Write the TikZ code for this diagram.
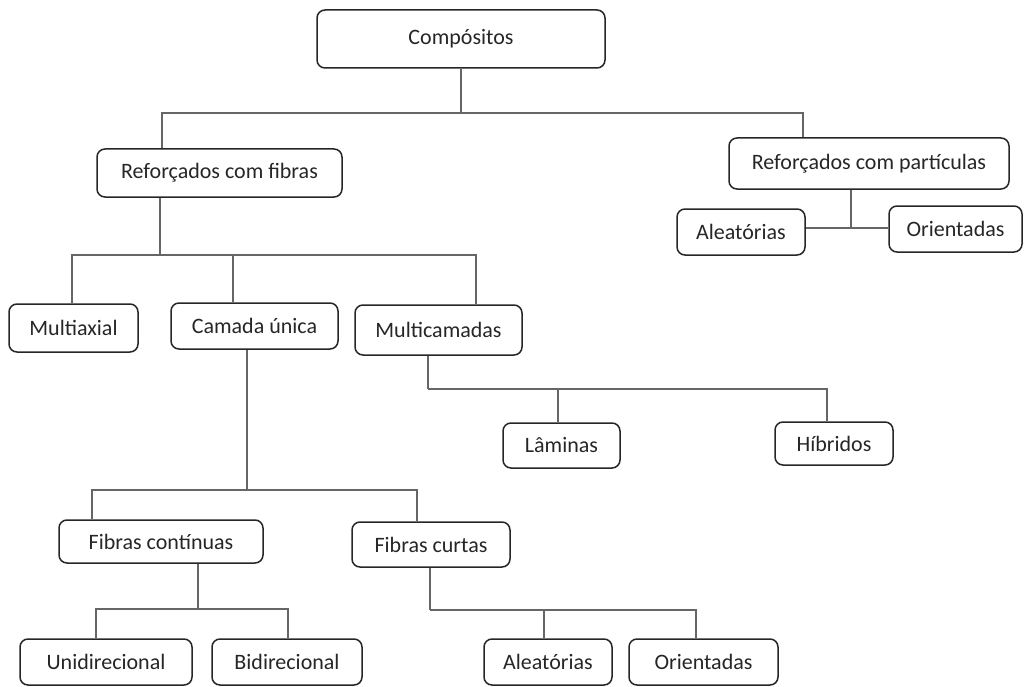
\documentclass[tikz,border=0pt]{standalone}
\usepackage{fontspec}
\setmainfont{Carlito}
\usetikzlibrary{calc}
\tikzset{
  caixa/.style={draw=black!85,line width=1.5pt,rounded corners=8pt,align=center,inner sep=0pt,text=black!85},
  liga/.style={draw=black!60,line width=1.3pt}
}

\begin{document}
\begin{tikzpicture}[x=1pt,y=-1pt,font=\fontsize{22}{26}\selectfont]
            \useasboundingbox (0,0) rectangle (1024,687);
            \node[caixa,minimum width=288,minimum height=58] (comp) at (461,39) {Compósitos};
            \node[caixa,minimum width=245,minimum height=48] (fibras) at (219.5,173) {Reforçados com fibras};
            \node[caixa,minimum width=280,minimum height=51] (part) at (869,163.5) {Reforçados com partículas};
            \node[caixa,minimum width=128,minimum height=46] (aleatP) at (741,232) {Aleatórias};
            \node[caixa,minimum width=133,minimum height=46] (orientP) at (955.5,229) {Orientadas};
            \node[caixa,minimum width=129,minimum height=48] (multiax) at (73.5,328) {Multiaxial};
            \node[caixa,minimum width=167,minimum height=46] (camada) at (254.5,326) {Camada única};
            \node[caixa,minimum width=167,minimum height=50] (multicam) at (438.5,330) {Multicamadas};
            \node[caixa,minimum width=117,minimum height=45] (laminas) at (561.5,445.5) {Lâminas};
            \node[caixa,minimum width=118,minimum height=43] (hibridos) at (834,443.5) {Híbridos};
            \node[caixa,minimum width=204,minimum height=43] (fcont) at (161,541.5) {Fibras contínuas};
            \node[caixa,minimum width=158,minimum height=45] (fcurt) at (431,544.5) {Fibras curtas};
            \node[caixa,minimum width=172,minimum height=46] (unid) at (106,662) {Unidirecional};
            \node[caixa,minimum width=150,minimum height=46] (bid) at (287,662) {Bidirecional};
            \node[caixa,minimum width=128,minimum height=46] (aleatB) at (548,662) {Aleatórias};
            \node[caixa,minimum width=149,minimum height=46] (orientB) at (703.5,662) {Orientadas};

            % ramos
            \coordinate (j1) at (461,113);
            \draw[liga] (comp.south) -- (j1);
            \draw[liga] ([xshift=-57.5pt]fibras.north) |- (j1);
            \draw[liga] ([xshift=-66pt]part.north) |- (j1);

            \coordinate (j7) at (851,228);
            \draw[liga] ([xshift=-18pt]part.south) -- (j7);
            \draw[liga] (aleatP.east |- j7) -- (orientP.west |- j7);

            \coordinate (j2) at (160,255);
            \draw[liga] ([xshift=-59.5pt]fibras.south) -- (j2);
            \draw[liga] ([xshift=-1.5pt]multiax.north) |- (j2);
            \draw[liga] ([xshift=-21.5pt]camada.north) |- (j2);
            \draw[liga] ([xshift=37.5pt]multicam.north) |- (j2);

            \coordinate (j3) at (428,389);
            \draw[liga] ([xshift=-10.5pt]multicam.south) -- (j3);
            \draw[liga] ([xshift=-3.5pt]laminas.north) |- (j3);
            \draw[liga] ([xshift=-7pt]hibridos.north) |- (j3);

            \coordinate (j4) at (247,490);
            \draw[liga] ([xshift=-7.5pt]camada.south) -- (j4);
            \draw[liga] ([xshift=-69pt]fcont.north) |- (j4);
            \draw[liga] ([xshift=-14pt]fcurt.north) |- (j4);

            \coordinate (j5) at (198,609);
            \draw[liga] ([xshift=37pt]fcont.south) -- (j5);
            \draw[liga] ([xshift=-10pt]unid.north) |- (j5);
            \draw[liga] ([xshift=1pt]bid.north) |- (j5);

            \coordinate (j6) at (430,610);
            \draw[liga] ([xshift=-1pt]fcurt.south) -- (j6);
            \draw[liga] ([xshift=-4pt]aleatB.north) |- (j6);
            \draw[liga] ([xshift=-7.5pt]orientB.north) |- (j6);
        \end{tikzpicture}
\end{document}
